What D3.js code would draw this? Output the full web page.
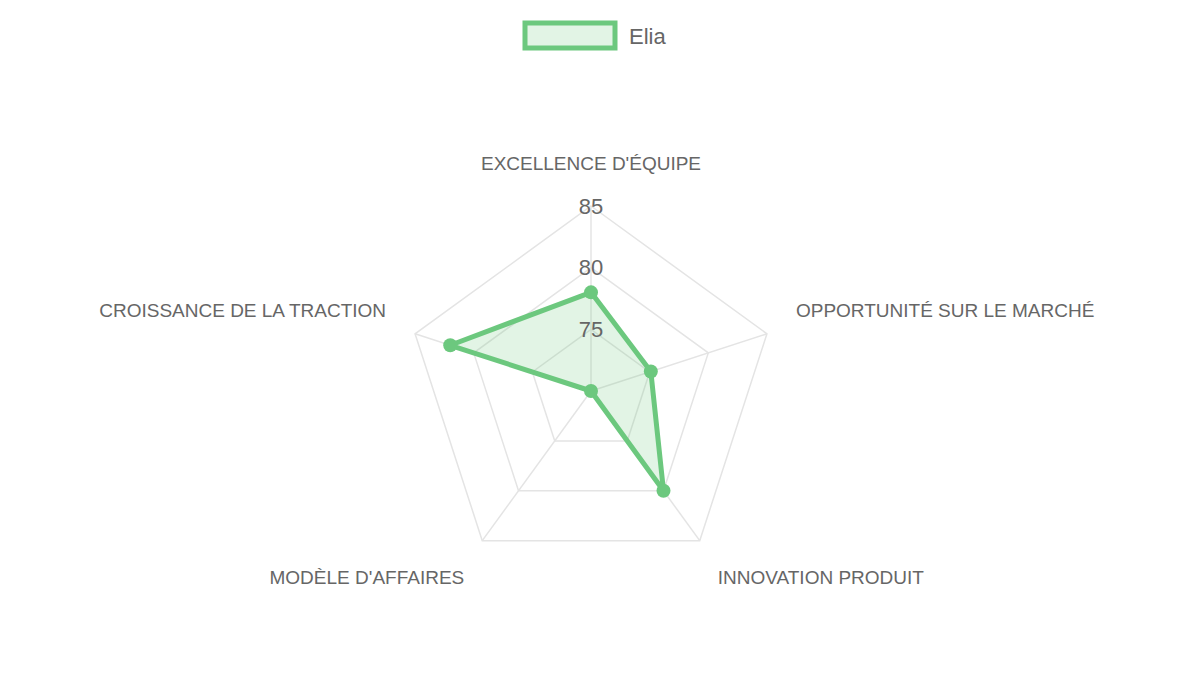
<!DOCTYPE html>
<html><head><meta charset="utf-8">
<script src="https://cdn.jsdelivr.net/npm/d3@7"></script>
<style>body{margin:0;background:#fff}text{font-family:"Liberation Sans",Arial,sans-serif}</style>
</head><body>
<svg id="c" width="1200" height="675"></svg>
<script>
// radar: scores per axis
const axes = ["EXCELLENCE D'ÉQUIPE", "OPPORTUNITÉ SUR LE MARCHÉ", "INNOVATION PRODUIT", "MODÈLE D'AFFAIRES", "CROISSANCE DE LA TRACTION"];
const seriesName = "Elia";
const values = [78, 75.1, 80, 70, 82];
const ticks = [75, 80, 85];

const cx = 591, cy = 391, R = 185,
    color = "rgb(108,200,126)";

const svg = d3.select("#c");
const r = d3.scaleLinear().domain([70, 85]).range([0, R]);
const ang = i => -Math.PI / 2 + i * 2 * Math.PI / axes.length;
const pt = (i, v) => [cx + r(v) * Math.cos(ang(i)), cy + r(v) * Math.sin(ang(i))];

// grid rings
ticks.forEach(t => {
    svg.append("polygon")
        .attr("points", axes.map((a, i) => pt(i, t).join(",")).join(" "))
        .attr("fill", "none").attr("stroke", "#e4e4e4").attr("stroke-width", 1.5);
});
axes.forEach((a, i) => {
    const [x, y] = pt(i, 85);
    svg.append("line").attr("x1", cx).attr("y1", cy).attr("x2", x).attr("y2", y)
        .attr("stroke", "#e4e4e4").attr("stroke-width", 1.5);
});

// data
const line = d3.line().x(d => d[0]).y(d => d[1]).curve(d3.curveLinearClosed);
const pts = values.map((v, i) => pt(i, v));
svg.append("path").attr("d", line(pts))
    .attr("fill", color).attr("fill-opacity", 0.2)
    .attr("stroke", color).attr("stroke-width", 5).attr("stroke-linejoin", "round");
svg.selectAll("circle.p").data(pts).join("circle")
    .attr("cx", d => d[0]).attr("cy", d => d[1]).attr("r", 7).attr("fill", color);

// tick labels
ticks.forEach(t => {
    svg.append("text").attr("x", cx).attr("y", cy - r(t)).attr("dy", "0.35em")
        .attr("text-anchor", "middle").attr("font-size", 22).attr("fill", "#666").text(t);
});

// axis labels
axes.forEach((a, i) => {
    const [x, y] = pt(i, 85);
    const c = Math.cos(ang(i));
    let anchor = Math.abs(c) < 0.1 ? "middle" : (c > 0 ? "start" : "end");
    let lx = x + (c > 0.1 ? 29 : c < -0.1 ? -29 : 0);
    let ly = i === 0 ? y - 43 : (i === 1 || i === 4) ? y - 23 : y + 37;
    if (i === 2) lx = x + 18;
    if (i === 3) lx = x - 18;
    svg.append("text").attr("x", lx).attr("y", ly).attr("dy", "0.35em")
        .attr("text-anchor", anchor).attr("font-size", 19).attr("fill", "#666").text(a);
});

// legend
svg.append("rect").attr("x", 525).attr("y", 23).attr("width", 90).attr("height", 25)
    .attr("fill", color).attr("fill-opacity", 0.2).attr("stroke", color).attr("stroke-width", 5);
svg.append("text").attr("x", 629).attr("y", 36).attr("dy", "0.35em")
    .attr("font-size", 22).attr("fill", "#666").text(seriesName);
</script>
</body></html>
